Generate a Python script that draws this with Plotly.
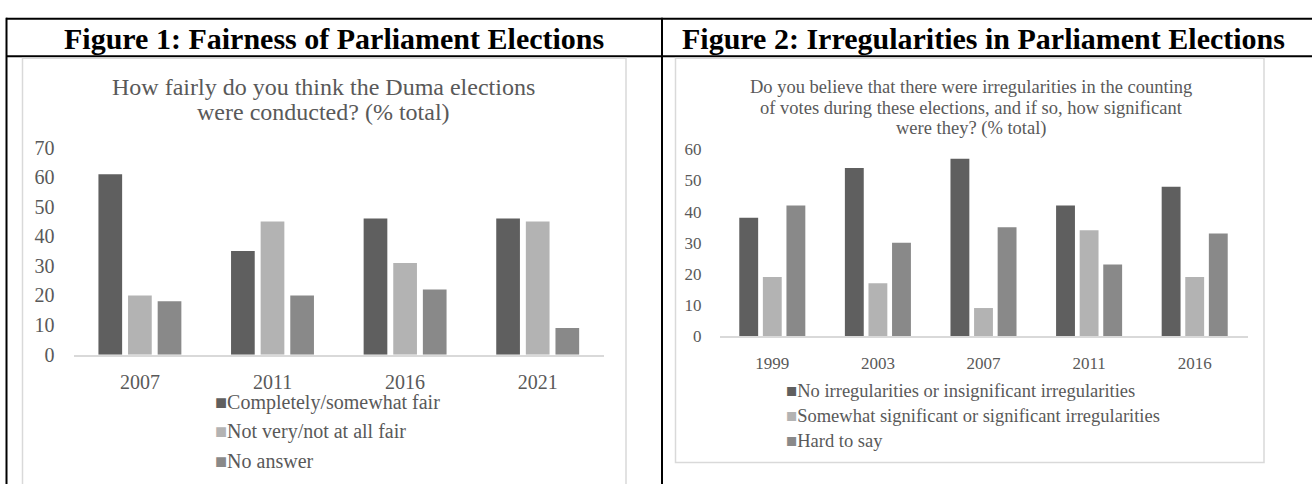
import plotly.graph_objects as go

# ---------------- data ----------------
years_fig1 = ["2007", "2011", "2016", "2021"]
fair = [61, 35, 46, 46]
not_fair = [20, 45, 31, 45]
no_answer = [18, 20, 22, 9]
names_fig1 = ["Completely/somewhat fair", "Not very/not at all fair", "No answer"]

years_fig2 = ["1999", "2003", "2007", "2011", "2016"]
no_irreg = [38, 54, 57, 42, 48]
sig_irreg = [19, 17, 9, 34, 19]
hard_to_say = [42, 30, 35, 23, 33]
names_fig2 = ["No irregularities or insignificant irregularities",
              "Somewhat significant or significant irregularities",
              "Hard to say"]

colors = ["#5f5f5f", "#b3b3b3", "#898989"]

W, H = 1312, 484
def px(x): return x / W
def py(y): return 1 - y / H

SERIF = "Liberation Serif"
GREY_TXT = "#595959"

fig = go.Figure()
for name, vals, col in zip(names_fig1, [fair, not_fair, no_answer], colors):
    fig.add_trace(go.Bar(x=years_fig1, y=vals, name=name, xaxis="x", yaxis="y",
                         marker=dict(color=col, line=dict(width=0)), showlegend=False))
for name, vals, col in zip(names_fig2, [no_irreg, sig_irreg, hard_to_say], colors):
    fig.add_trace(go.Bar(x=years_fig2, y=vals, name=name, xaxis="x2", yaxis="y2",
                         marker=dict(color=col, line=dict(width=0)), showlegend=False))

axis_common = dict(showgrid=False, zeroline=False, ticks="", fixedrange=True)

fig.update_layout(
    width=W, height=H, margin=dict(l=0, r=0, t=0, b=0),
    paper_bgcolor="white", plot_bgcolor="rgba(0,0,0,0)",
    barmode="group", bargap=0.33, bargroupgap=0.2,
    xaxis=dict(domain=[px(73.6), px(604)], anchor="y", type="category",
               showline=True, linecolor="#d9d9d9", linewidth=1.5,
               tickfont=dict(family=SERIF, size=20, color=GREY_TXT),
               ticklabelstandoff=9, **axis_common),
    yaxis=dict(domain=[py(360), py(143)], anchor="x", range=[0, 70], dtick=10,
               showline=False, tickfont=dict(family=SERIF, size=20, color=GREY_TXT),
               ticklabelstandoff=18, **axis_common),
    xaxis2=dict(domain=[px(719.5), px(1247.5)], anchor="y2", type="category",
                showline=True, linecolor="#d9d9d9", linewidth=1.5,
                tickfont=dict(family=SERIF, size=17, color=GREY_TXT),
                ticklabelstandoff=11, **axis_common),
    yaxis2=dict(domain=[py(340.5), py(145)], anchor="x2", range=[0, 60], dtick=10,
                showline=False, tickfont=dict(family=SERIF, size=17, color=GREY_TXT),
                ticklabelstandoff=17, **axis_common),
)

shapes = []
# table borders (black)
blk = dict(color="black", width=2)
shapes.append(dict(type="line", xref="paper", yref="paper", x0=px(6), x1=px(1320), y0=py(8), y1=py(8), line=blk))
shapes.append(dict(type="line", xref="paper", yref="paper", x0=px(6), x1=px(1320), y0=py(47.5), y1=py(47.5), line=blk))
shapes.append(dict(type="line", xref="paper", yref="paper", x0=px(6.5), x1=px(6.5), y0=py(7), y1=py(500), line=blk))
shapes.append(dict(type="line", xref="paper", yref="paper", x0=px(662), x1=px(662), y0=py(7), y1=py(500), line=blk))
# chart frames (light grey)
gry = dict(color="#d9d9d9", width=1.5)
shapes.append(dict(type="rect", xref="paper", yref="paper", x0=px(22.5), x1=px(626), y0=py(49.5), y1=py(500), line=gry))
shapes.append(dict(type="rect", xref="paper", yref="paper", x0=px(675.5), x1=px(1264), y0=py(49.5), y1=py(473), line=gry))
fig.update_layout(shapes=shapes)

ann = []
# header titles
ann.append(dict(text="<b>Figure 1: Fairness of Parliament Elections</b>", x=px(334), y=py(29),
                xref="paper", yref="paper", xanchor="center", yanchor="middle", showarrow=False,
                font=dict(family=SERIF, size=30, color="black")))
ann.append(dict(text="<b>Figure 2: Irregularities in Parliament Elections</b>", x=px(983), y=py(29),
                xref="paper", yref="paper", xanchor="center", yanchor="middle", showarrow=False,
                font=dict(family=SERIF, size=30, color="black")))
# chart titles
for txt, y in [("How fairly do you think the Duma elections", 80), ("were conducted? (% total)", 106)]:
    ann.append(dict(text=txt, x=px(323.5), y=py(y), xref="paper", yref="paper",
                    xanchor="center", yanchor="middle", showarrow=False,
                    font=dict(family=SERIF, size=24, color=GREY_TXT)))
for txt, y in [("Do you believe that there were irregularities in the counting", 80),
               ("of votes during these elections, and if so, how significant", 102),
               ("were they? (% total)", 123)]:
    ann.append(dict(text=txt, x=px(971), y=py(y), xref="paper", yref="paper",
                    xanchor="center", yanchor="middle", showarrow=False,
                    font=dict(family=SERIF, size=18.5, color=GREY_TXT)))
# legends
for name, col, y in zip(names_fig1, colors, [410, 440, 471]):
    ann.append(dict(text=f"<span style='color:{col}'>■</span>{name}", x=px(213), y=py(y),
                    xref="paper", yref="paper", xanchor="left", yanchor="middle", showarrow=False,
                    font=dict(family=SERIF, size=20, color=GREY_TXT)))
for name, col, y in zip(names_fig2, colors, [398, 424, 450]):
    ann.append(dict(text=f"<span style='color:{col}'>■</span>{name}", x=px(784), y=py(y),
                    xref="paper", yref="paper", xanchor="left", yanchor="middle", showarrow=False,
                    font=dict(family=SERIF, size=18.5, color=GREY_TXT)))
fig.update_layout(annotations=ann)

fig.write_html("out.html")
